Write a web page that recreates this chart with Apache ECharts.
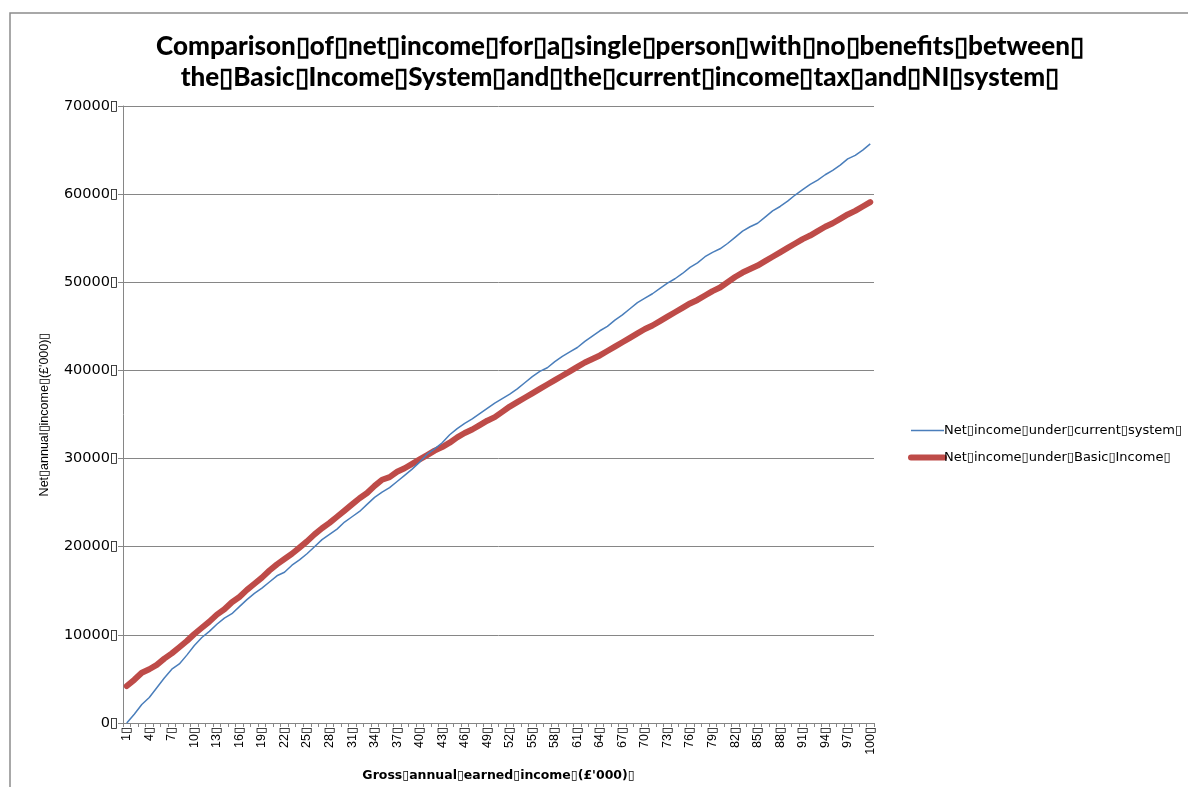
<!DOCTYPE html>
<html>
<head>
<meta charset="utf-8">
<script src="https://cdn.jsdelivr.net/npm/echarts@6/dist/echarts.min.js"></script>
<style>
html,body{margin:0;padding:0;background:#fff;}
#main{width:1188px;height:787px;}
</style>
</head>
<body>
<div id="main"></div>
<script>
const B = '\u25AF';
const titleLines = [
  ['Comparison','of','net','income','for','a','single','person','with','no','benefits','between',''],
  ['the','Basic','Income','System','and','the','current','income','tax','and','NI','system','']
];
const yAxisName = ['Net','annual','income','(£\'000)',''];
const xAxisName = ['Gross','annual','earned','income','(£\'000)',''];
const seriesNames = [['Net','income','under','current','system',''], ['Net','income','under','Basic','Income','']];

const categories = [];
for (let i = 1; i <= 100; i++) categories.push(String(i));

const currentSystem = [
  0,1000,2100,2900,4000,5100,6100,6700,7700,8800,
  9700,10400,11200,11900,12400,13200,14000,14700,15300,16000,
  16700,17100,17900,18500,19200,20000,20800,21400,22000,22800,
  23400,24000,24800,25600,26200,26700,27400,28100,28800,29600,
  30500,31100,31800,32700,33400,34000,34500,35100,35700,36300,
  36800,37300,37900,38600,39300,39900,40300,41000,41600,42100,
  42600,43300,43900,44500,45000,45700,46300,47000,47700,48200,
  48700,49300,49900,50400,51000,51700,52200,52900,53400,53800,
  54400,55100,55800,56300,56700,57400,58100,58600,59200,59900,
  60500,61100,61600,62200,62700,63300,64000,64400,65000,65700
];
const basicIncome = [
  4200,4900,5700,6100,6600,7300,7900,8600,9300,10100,
  10800,11500,12300,12900,13700,14300,15100,15800,16500,17300,
  18000,18600,19200,19900,20600,21400,22100,22700,23400,24100,
  24800,25500,26100,26900,27600,27900,28500,28900,29400,29900,
  30400,30900,31300,31800,32400,32900,33300,33800,34300,34700,
  35300,35900,36400,36900,37400,37900,38400,38900,39400,39900,
  40400,40900,41300,41700,42200,42700,43200,43700,44200,44700,
  45100,45600,46100,46600,47100,47600,48000,48500,49000,49400,
  50000,50600,51100,51500,51900,52400,52900,53400,53900,54400,
  54900,55300,55800,56300,56700,57200,57700,58100,58600,59100
];
const yTicks = [0,10000,20000,30000,40000,50000,60000,70000];

const j = a => a.join(B);
const n1 = j(seriesNames[0]), n2 = j(seriesNames[1]);

const chart = echarts.init(document.getElementById('main'));
chart.setOption({
  animation: false,
  backgroundColor: '#fff',
  title: {
    text: j(titleLines[0]) + '\n' + j(titleLines[1]),
    left: 615, top: 26, textAlign: 'center',
    textStyle: {fontFamily: 'Lato', fontWeight: 900, fontSize: 26, lineHeight: 31, color: '#000'}
  },
  graphic: [{
    type: 'rect', shape: {x: 10, y: 13, width: 1200, height: 800},
    style: {fill: 'none', stroke: '#8c8c8c', lineWidth: 1.5}, silent: true
  }],
  legend: {
    orient: 'vertical', left: 903, top: 419, itemGap: 14,
    itemWidth: 33, itemHeight: 16,
    textStyle: {fontFamily: 'DejaVu Sans', fontSize: 13, color: '#000', padding: [0,0,0,-5]},
    data: [
      {name: n1, itemStyle: {opacity: 0}, lineStyle: {width: 1.5, color: '#4a7ebb'}},
      {name: n2, itemStyle: {opacity: 0}, lineStyle: {width: 6, color: '#be4b48'}}
    ]
  },
  grid: {left: 123, right: 314, top: 106, bottom: 60, containLabel: false},
  xAxis: {
    type: 'category', data: categories, boundaryGap: true,
    name: j(xAxisName), nameLocation: 'middle', nameGap: 46,
    nameTextStyle: {fontFamily: 'DejaVu Sans', fontWeight: 'bold', fontSize: 12.5, color: '#000'},
    axisLine: {lineStyle: {color: '#868686', width: 1}},
    axisTick: {show: true, interval: 0, length: 4, lineStyle: {color: '#868686'}},
    axisLabel: {interval: 2, rotate: 90, fontFamily: 'Liberation Sans', fontSize: 12.5, color: '#000', margin: 4,
      formatter: v => v + B}
  },
  yAxis: {
    type: 'value', min: 0, max: 70000, interval: 10000,
    name: j(yAxisName), nameLocation: 'middle', nameGap: 72, nameRotate: 90,
    nameTextStyle: {fontFamily: 'Liberation Sans', fontSize: 12.5, color: '#000'},
    axisLine: {show: true, lineStyle: {color: '#868686', width: 1}},
    axisTick: {show: true, length: 5, lineStyle: {color: '#868686'}},
    splitLine: {lineStyle: {color: '#868686', width: 1}},
    axisLabel: {fontFamily: 'DejaVu Sans', fontSize: 14.5, color: '#000', margin: 5,
      formatter: v => (yTicks.indexOf(v) >= 0 ? String(v) : '') + B}
  },
  series: [
    {name: n1, type: 'line', data: currentSystem, symbol: 'none', smooth: false,
      lineStyle: {color: '#4a7ebb', width: 1.5}, itemStyle: {color: '#4a7ebb'}, z: 3},
    {name: n2, type: 'line', data: basicIncome, symbol: 'none', smooth: false,
      lineStyle: {color: '#be4b48', width: 6, cap: 'round', join: 'round'}, itemStyle: {color: '#be4b48'}, z: 2}
  ]
});
</script>
</body>
</html>
